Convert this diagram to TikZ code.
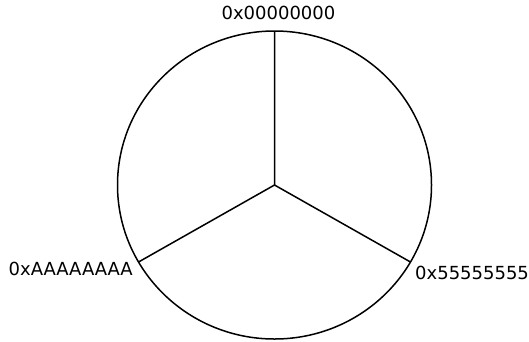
\documentclass[tikz,border=0pt]{standalone}
\usepackage{fontspec}
\setmainfont{DejaVu Sans}
\begin{document}
\begin{tikzpicture}[x=1pt,y=1pt,font=\fontsize{18}{20}\selectfont,line width=1.5pt]
\useasboundingbox (0,-341) rectangle (529,0);
\coordinate (c) at (274.5,-185);
\draw (c) ellipse [x radius=157,y radius=154];
\foreach \a/\n in {90/top,210/left,330/right} \coordinate (\n) at ([shift={(\a:157 and 154)}]c);
\draw (c)--(top) (c)--(left) (c)--(right);
\node[anchor=south,inner sep=0pt] (ltop) at ([shift={(4,10)}]top) {0x00000000};
\node[anchor=north east,inner sep=0pt] (lleft) at ([shift={(-5,1)}]left) {0xAAAAAAAA};
\node[anchor=north west,inner sep=0pt] (lright) at ([shift={(4,-3)}]right) {0x55555555};
\end{tikzpicture}
\end{document}
